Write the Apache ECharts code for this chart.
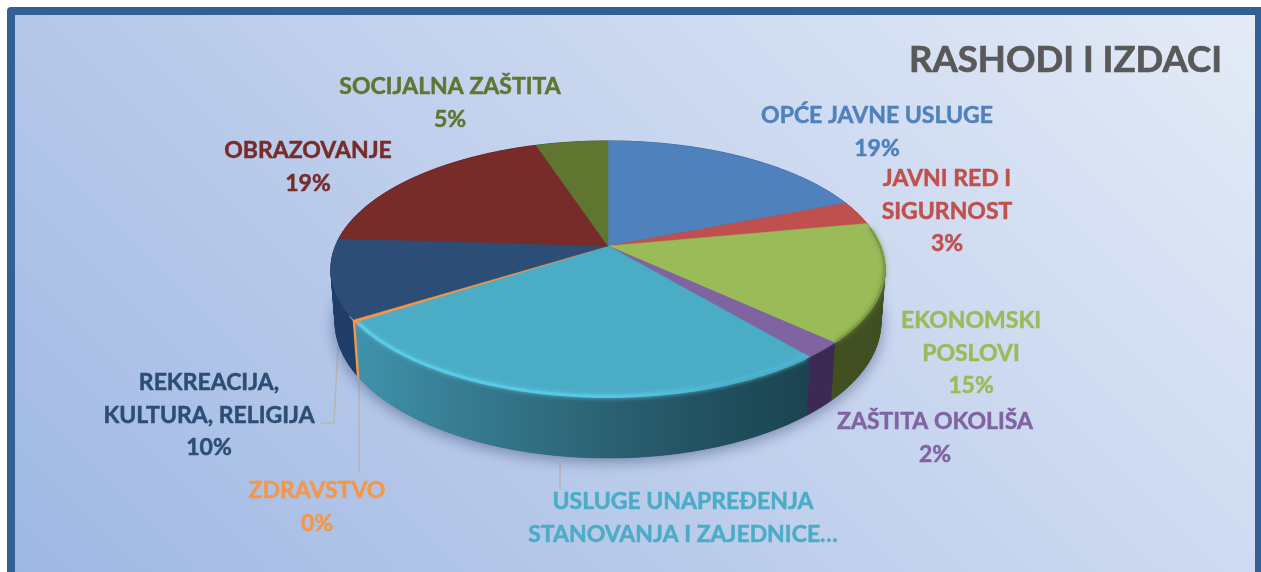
<!DOCTYPE html>
<html><head><meta charset="utf-8">
<style>html,body{margin:0;padding:0;background:#fff}#c{width:1261px;height:572px}</style>
<script src="https://cdn.jsdelivr.net/npm/echarts@6/dist/echarts.min.js"></script>
</head><body><div id="c"></div>
<script>
// ---- data ----
const categories = ['OPĆE JAVNE USLUGE','JAVNI RED I SIGURNOST','EKONOMSKI POSLOVI','ZAŠTITA OKOLIŠA','USLUGE UNAPREĐENJA STANOVANJA I ZAJEDNICE','ZDRAVSTVO','REKREACIJA, KULTURA, RELIGIJA','OBRAZOVANJE','SOCIJALNA ZAŠTITA'];
const values = [19, 3, 15, 2, 26.7, 0.3, 10, 19, 5];
const percentLabels = ['19%','3%','15%','2%','','0%','10%','19%','5%'];
const labelLines = [['OPĆE JAVNE USLUGE'],['JAVNI RED I','SIGURNOST'],['EKONOMSKI','POSLOVI'],['ZAŠTITA OKOLIŠA'],['USLUGE UNAPREĐENJA','STANOVANJA I ZAJEDNICE…'],['ZDRAVSTVO'],['REKREACIJA,','KULTURA, RELIGIJA'],['OBRAZOVANJE'],['SOCIJALNA ZAŠTITA']];
const titleText = 'RASHODI I IZDACI';
// ---- styles ----
const topColors = ['#4f81bd','#c0504d','#9bbb59','#8064a2','#4bacc6','#f79646','#2c4d75','#772c2a','#5f7530'];
const sideColors = ['#2f4d71','#73302e','#424f20','#3c2a55','#2d6678','#f79646','#1f3e69','#471a19','#39461d'];
const labelColors = ['#4f81bd','#c0504d','#9bbb59','#8064a2','#4bacc6','#f79646','#2c4d75','#772c2a','#5f7530'];
const labelAnchors = [[877,116],[947,179],[971,321],[935,422],[683,502],[317,491],[209,383],[308,151],[450,87]];
const lineGap = 32.5;
const FONT = '"Lato","Carlito","Open Sans",sans-serif';
// ---- projection of the tilted disc ----
const CX = 608, CY = 246, R = 272.6, RY = 124, P = 0.18, DEPTH = 53, SHRINK = 0.015;
const total = values.reduce((a,b)=>a+b,0);
const starts = []; values.reduce((a,v,i)=>(starts[i]=a, a+v),0);
const ang = s => s/total*Math.PI*2;
function topPt(t, r){ r = r==null?1:r; const u=Math.sin(t)*r, v=-Math.cos(t)*r, w=1-P*v; return [CX+R*u/w, CY+RY*v/w]; }
function botPt(t){ const u=Math.sin(t), v=-Math.cos(t), w=1-P*v+SHRINK; return [CX+R*u/w, CY+(RY*v+DEPTH)/w]; }
function arc(fn,a,b,r){ const n=Math.max(2,Math.ceil(Math.abs(b-a)/0.02)), out=[]; for(let i=0;i<=n;i++) out.push(fn(a+(b-a)*i/n,r)); return out; }

const chart = echarts.init(document.getElementById('c'), null, {renderer:'canvas'});
const tealSide = new echarts.graphic.LinearGradient(358,0,808,0,[{offset:0,color:'#3f93ab'},{offset:.2,color:'#387f95'},{offset:.45,color:'#2f6a7c'},{offset:.72,color:'#245565'},{offset:1,color:'#1b4350'}],true);

function renderShadow(params, api){
  return {type:'polygon', shape:{points:arc(botPt,0,Math.PI*2)}, style:{fill:'#2c4d75',shadowBlur:16,shadowColor:'rgba(30,45,90,0.5)',shadowOffsetX:0,shadowOffsetY:3}, silent:true};
}
function renderSide(params, api){
  const i=params.dataIndex, a=ang(starts[i]), b=ang(starts[i]+api.value(0));
  const tp=arc(topPt,a,b), bp=arc(botPt,a,b);
  const fill = i===4 ? tealSide : sideColors[i];
  const mid=(a+b)/2, z=Math.round(-Math.cos(mid)*100)+200, kids=[];
  for(let k=0;k<tp.length-1;k++){
    kids.push({type:'polygon', z2:z, shape:{points:[tp[k],tp[k+1],bp[k+1],bp[k]]}, style:{fill:fill,stroke:fill,lineWidth:i===5?1.2:0.7,lineJoin:'round'}});
  }
  return {type:'group',children:kids,silent:true};
}
function renderTop(params, api){
  const i=params.dataIndex, a=ang(starts[i]), b=ang(starts[i]+api.value(0));
  const pts=[[CX,CY]].concat(arc(topPt,a,b));
  const kids=[{type:'polygon',shape:{points:pts},style:{fill:topColors[i],stroke:topColors[i],lineWidth:i===5?1:0.6,lineJoin:'round'}}];
  // bevelled rim
  if(i===4) kids.push({type:'polyline',shape:{points:arc(topPt,a+0.012,b-0.01,0.995)},style:{fill:null,lineWidth:3,shadowBlur:4,shadowColor:'#57c8e6',stroke:new echarts.graphic.LinearGradient(0,0,1,0,[{offset:0,color:'#5acde9'},{offset:.55,color:'#58c8e4'},{offset:.85,color:'#4bb0ca'},{offset:1,color:'#4bacc6'}])}});
  if(i===2) kids.push({type:'polyline',shape:{points:arc(topPt,a+0.04,b-0.01,0.997)},style:{fill:null,lineWidth:2.5,shadowBlur:5,shadowColor:'#7f9a48',stroke:'#7f9a48'}});
  if(i===5) kids.push({type:'polyline',shape:{points:arc(topPt,a-0.03,b+0.03,1)},style:{fill:null,lineWidth:2,stroke:'#f79646'}});
  return {type:'group',children:kids,silent:true};
}
function renderLabel(params, api){
  const i=params.dataIndex, c=labelAnchors[i], lines=labelLines[i].slice();
  if(percentLabels[i]) lines.push(percentLabels[i]);
  return {type:'group',silent:true,children:lines.map((t,k)=>({type:'text',style:{text:t,x:c[0],y:c[1]+k*lineGap,fill:labelColors[i],stroke:labelColors[i],lineWidth:0.5,font:'700 23px '+FONT,textAlign:'center',textVerticalAlign:'middle'}}))};
}
const data = values.map((v,i)=>({name:categories[i],value:v}));
const leader = {stroke:'#b5b5b5',lineWidth:1.5,fill:null};
chart.setOption({
  animation:false,
  tooltip:{show:false},
  graphic:[
    {type:'rect',z:0,silent:true,shape:{x:0,y:0,width:1261,height:572},style:{fill:'#ffffff'}},
    {type:'rect',z:1,silent:true,shape:{x:7,y:7,width:1254,height:565,r:[4,0,0,0]},style:{fill:'#345f94'}},
    {type:'rect',z:2,silent:true,shape:{x:15,y:15,width:1240,height:557},style:{fill:new echarts.graphic.LinearGradient(15,572,913,-326,[{offset:0,color:'#9fb8e3'},{offset:.5,color:'#c2d1ed'},{offset:1,color:'#e4ebf7'}],true)}},
    {type:'text',z:3,silent:true,style:{text:titleText,x:1222,y:60,fill:'#595959',stroke:'#595959',lineWidth:0.7,font:'700 36.5px '+FONT,textAlign:'right',textVerticalAlign:'middle'}},
    {type:'polyline',z:3,silent:true,shape:{points:[[320,423],[334,423],[338,345]]},style:leader},
    {type:'polyline',z:3,silent:true,shape:{points:[[359,382],[359,472]]},style:leader},
    {type:'polyline',z:3,silent:true,shape:{points:[[560,463],[560,489]]},style:leader}
  ],
  series:[
    {type:'custom',coordinateSystem:'none',z:4,data:[values[0]],renderItem:renderShadow,silent:true},
    {type:'custom',coordinateSystem:'none',z:5,data:data,renderItem:renderSide,silent:true},
    {type:'custom',coordinateSystem:'none',z:6,data:data,renderItem:renderTop,silent:true},
    {type:'custom',coordinateSystem:'none',z:7,data:data,renderItem:renderLabel,silent:true}
  ]
});
</script></body></html>
